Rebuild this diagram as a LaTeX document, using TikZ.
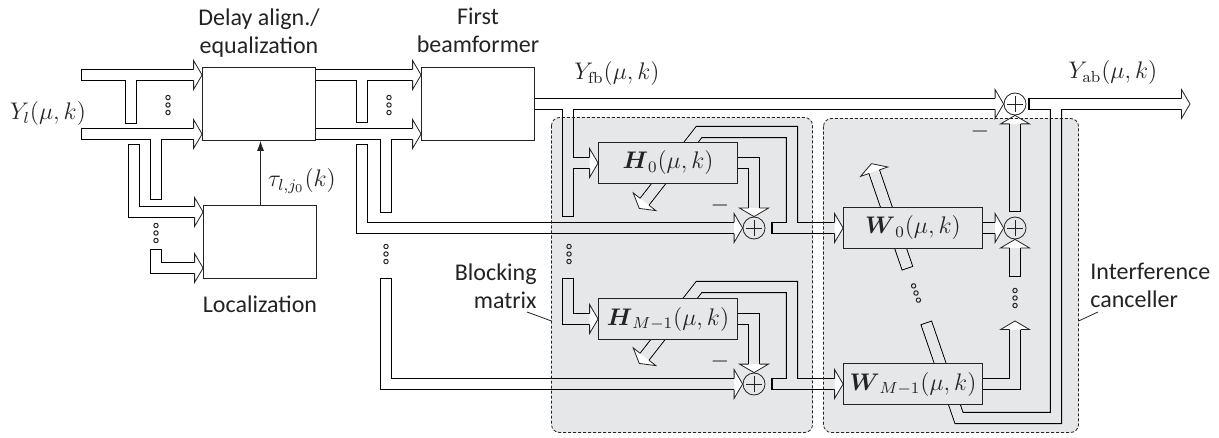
\documentclass[tikz,border=0pt]{standalone}
\usepackage{amsmath,amssymb}
\usepackage[no-math]{fontspec}
\newfontfamily\lblfont{Carlito}
\usetikzlibrary{positioning,calc,arrows.meta}
\definecolor{bggray}{RGB}{230,231,232}
\definecolor{ink}{RGB}{35,35,35}
\pgfdeclarelayer{back}
\pgfdeclarelayer{pipes}
\pgfsetlayers{back,pipes,main}

% open block arrow head, tip at the origin
\tikzset{pics/head/.style={code={
  \filldraw[fill=white,pic actions] (-4.25pt,-2.75pt) -- (-4.25pt,-7.2pt) -- (0pt,0pt) -- (-4.25pt,7.2pt) -- (-4.25pt,2.75pt);
}}}
% three small circles
\tikzset{pics/vdots3/.style={code={
  \foreach \k in {-1,0,1} \draw[line width=0.5pt] (0,\k*7.5) circle (2.2);
}}}

% all wide signal paths, drawn once per pass
\newcommand{\pipenet}{%
  % microphone rows into delay alignment
  \draw[shutstart,headend] (81,75) -- (delay.west |- r1);
  \draw[shutend] (131,75) -- (131,124);
  \draw[shutstart,headend] (81,134) -- (delay.west |- r2);
  \draw[shutend] (156,134) -- (156,200);
  % into localization
  \draw[shutstart,headend] (134,144) -- (134,212) -- (loc.west |- 0,212);
  \draw[shutstart,headend] (156,249) -- (156,268) -- (loc.west |- 0,268);
  % aligned rows
  \draw[headend] (delay.east |- r1) -- (beam.west |- r1);
  \draw[shutend] (362,75) -- (362,123);
  \draw[headend] (delay.east |- r2) -- (beam.west |- r2);
  \draw[shutend] (386,134) -- (386,213);
  \draw[shutstart,headend] (362,144) -- (362,0 |- s0) -- (s0.west);
  \draw[shutstart,headend] (386,278) -- (386,0 |- sM) -- (sM.west);
  % first beamformer output
  \draw[headend] (beam.east) -- (sT.west);
  \draw[shutend] (568,104) -- (568,217);
  \draw[headend] (568,0 |- H0.west) -- (H0.west);
  \draw[shutstart,headend] (568,278) -- (568,0 |- HM.west) -- (HM.west);
  % blocking matrix
  \draw[headend] (H0.east) -- (H0.east -| s0) -- (s0.north);
  \draw[headend] (HM.east) -- (HM.east -| sM) -- (sM.north);
  \draw[shutstart,headend] ([xshift=3pt]s0.east) -- (W0.west);
  \draw[shutstart,headend] ([xshift=3pt]sM.east) -- (WM.west);
  \draw[headend] (792,0 |- s0) -- (792,0 |- hb0) -- (hb0) -- (ht0);
  \draw[headend] (792,0 |- sM) -- (792,0 |- hbM) -- (hbM) -- (htM);
  % interference canceller
  \draw[headend] (W0.east) -- (sW.west);
  \draw[headend] (WM.east) -- (WM.east -| sW) -- (wmtip);
  \draw[shutstart,headend] (1015,277) -- (sW.south);
  \draw[shutstart,headend] ([yshift=2.25pt]sW.north) -- (sT.south);
  \draw[shutstart,headend] ([xshift=1pt]sT.east) -- (ytip);
  \draw[shutend] (1056,0 |- sT) -- (1056,0 |- wb) -- (wb) -- ($(wb)+(251:101)$);
  \draw[shutstart,headend] ($(wb)+(251:158)$) -- (wt);
}

\begin{document}
\begin{tikzpicture}[x=0.5pt,y=-0.5pt,line width=0.55pt,line join=miter,color=ink,
    font=\fontsize{12}{14}\selectfont]
  \tikzstyle{blk}=[draw,fill=white,minimum width=56.5pt,minimum height=36.5pt,inner sep=0pt]
  \tikzstyle{filt}=[draw,fill=bggray,minimum width=69.5pt,minimum height=20.5pt,inner sep=0pt]
  \tikzstyle{sum}=[circle,draw,fill=bggray,minimum size=11pt,inner sep=0pt,
    path picture={\draw ([xshift=-4pt]path picture bounding box.center) -- ([xshift=4pt]path picture bounding box.center)
      ([yshift=-4pt]path picture bounding box.center) -- ([yshift=4pt]path picture bounding box.center);}]
  \tikzstyle{lbl}=[font=\lblfont\fontsize{12}{14}\selectfont,inner sep=0pt,align=center]
  \tikzstyle{region}=[dash pattern=on 1.6pt off 0.9pt,rounded corners=4pt]
  \tikzstyle{tag}=[line width=0.4pt]

  \useasboundingbox (0,0) rectangle (1219,438);

  % shaded groups
  \begin{pgfonlayer}{back}
    \fill[bggray,rounded corners=4pt] (551.5,117.5) rectangle (812.5,432.5);
    \fill[bggray,rounded corners=4pt] (823.5,118.5) rectangle (1078.5,432.5);
  \end{pgfonlayer}

  % blocks
  \node[blk] (delay) at (259,104) {};
  \node[blk] (beam) at (478,104) {};
  \node[blk] (loc) at (260,242) {};
  \node[filt] (H0) at (668,163) {$\boldsymbol{H}_0(\mu,k)$};
  \node[filt] (HM) at (668,319) {$\boldsymbol{H}_{M-1}(\mu,k)$};
  \node[filt] (W0) at (913,228) {$\boldsymbol{W}_0(\mu,k)$};
  \node[filt] (WM) at (913,384) {$\boldsymbol{W}_{M-1}(\mu,k)$};

  % adders
  \node[sum] (s0) at (754,228) {};
  \node[sum] (sM) at (754,384) {};
  \node[sum] (sW) at (1015,228) {};
  \node[sum,fill=white] (sT) at (1015,104) {};

  % helper points
  \coordinate (r1) at (0,75);
  \coordinate (r2) at (0,134);
  \coordinate (hb0) at (699,132);
  \coordinate (ht0) at ($(hb0)+(128:97)$);
  \coordinate (hbM) at (699,287);
  \coordinate (htM) at ($(hbM)+(128:97)$);
  \coordinate (wb) at (959,418);
  \coordinate (wt) at ($(wb)+(251:269)$);
  \coordinate (wmtip) at (1015,321);
  \coordinate (ytip) at (1190,104);

  % wide paths: walls, then insides
  \begin{pgfonlayer}{pipes}
    \begin{scope}[line width=6.05pt,shutstart/.style={},shutend/.style={},headend/.style={shorten >=4.25pt}]
      \pipenet
    \end{scope}
    \begin{scope}[line width=4.95pt,color=white,shutstart/.style={shorten <=0.55pt},shutend/.style={shorten >=0.55pt},headend/.style={shorten >=4.25pt}]
      \pipenet
    \end{scope}
    \begin{scope}
      \clip[rounded corners=4pt] (551.5,117.5) rectangle (812.5,432.5) (823.5,118.5) rectangle (1078.5,432.5);
      \begin{scope}[line width=4.95pt,color=bggray,shutstart/.style={shorten <=0.55pt},shutend/.style={shorten >=0.55pt},headend/.style={shorten >=4.25pt}]
        \pipenet
      \end{scope}
    \end{scope}
  \end{pgfonlayer}

  % arrow heads
  \pic at (delay.west |- r1) {head};
  \pic at (delay.west |- r2) {head};
  \pic at (loc.west |- 0,212) {head};
  \pic at (loc.west |- 0,268) {head};
  \pic at (beam.west |- r1) {head};
  \pic at (beam.west |- r2) {head};
  \pic at (sT.west) {head};
  \pic at (ytip) {head};
  \pic[fill=bggray] at (H0.west) {head};
  \pic[fill=bggray] at (HM.west) {head};
  \pic[fill=bggray] at (s0.west) {head};
  \pic[fill=bggray] at (sM.west) {head};
  \pic[fill=bggray,rotate=-90] at (s0.north) {head};
  \pic[fill=bggray,rotate=-90] at (sM.north) {head};
  \pic[fill=bggray,rotate=232] at (ht0) {head};
  \pic[fill=bggray,rotate=232] at (htM) {head};
  \pic[fill=bggray] at (W0.west) {head};
  \pic[fill=bggray] at (WM.west) {head};
  \pic[fill=bggray] at (sW.west) {head};
  \pic[fill=bggray,rotate=90] at (sW.south) {head};
  \pic[fill=bggray,rotate=90] at (sT.south) {head};
  \pic[fill=bggray,rotate=90] at (wmtip) {head};
  \pic[fill=bggray,rotate=109] at (wt) {head};

  % omitted channels
  \pic at (168,105) {vdots3};
  \pic at (389,105) {vdots3};
  \pic at (156,233) {vdots3};
  \pic at (386,254) {vdots3};
  \pic at (569,254) {vdots3};
  \pic[rotate=19] at (916,293) {vdots3};
  \pic at (1015,298) {vdots3};

  % delay control
  \draw[-{Latex[length=5pt,width=3.5pt]}] ([xshift=0.25pt]loc.north) -- ([xshift=0.25pt]loc.north |- delay.south);
  \node (ttau) at (302,181) {$\tau_{l,j_0}(k)$};

  % signal names and signs
  \node (ylab) at (48,114) {$Y_l(\mu,k)$};
  \node (yfb) at (617,74) {$Y_{\mathrm{fb}}(\mu,k)$};
  \node (yab) at (1113,73) {$Y_{\mathrm{ab}}(\mu,k)$};
  \node (neg0) at (720,206) {$-$};
  \node (negM) at (720,361) {$-$};
  \node (negT) at (980,132) {$-$};

  % block names
  \node[lbl,above=4.75pt of delay] (tdelay) {Delay align./\\equalization};
  \node[lbl,above=7.25pt of beam] (tbeam) {First\\beamformer};
  \node[lbl,below=8.5pt of loc] (tloc) {Localization};
  \node[lbl,align=right,anchor=east] (tbm) at (537,286) {Blocking\\matrix};
  \node[lbl,align=left,anchor=west] (tic) at (1090,285) {Interference\\canceller};

  % group outlines
  \draw[region] (551.5,117.5) rectangle (812.5,432.5);
  \draw[region] (823.5,118.5) rectangle (1078.5,432.5);
  \draw[tag] (527,312) -- (551.5,321);
  \draw[tag] (1078.5,321) -- (1098,312);
\end{tikzpicture}
\end{document}
